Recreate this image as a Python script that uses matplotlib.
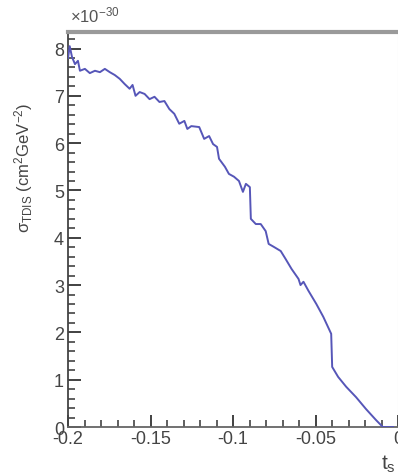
import numpy as np
import matplotlib.pyplot as plt
from matplotlib.ticker import MultipleLocator

plt.rcParams['font.family'] = ['Liberation Sans', 'DejaVu Sans']
plt.rcParams['mathtext.fontset'] = 'custom'
plt.rcParams['mathtext.rm'] = 'Liberation Sans'
plt.rcParams['mathtext.it'] = 'Liberation Sans'

# t values and cross section (units of 1e-30 cm^2 GeV^-2)
t_vals = [-0.2000, -0.1990, -0.1976, -0.1958, -0.1940, -0.1928, -0.1898, -0.1868,
          -0.1837, -0.1807, -0.1777, -0.1747, -0.1717, -0.1687, -0.1657, -0.1627,
          -0.1609, -0.1591, -0.1566, -0.1536, -0.1506, -0.1476, -0.1446, -0.1416,
          -0.1386, -0.1356, -0.1326, -0.1295, -0.1277, -0.1253, -0.1205, -0.1175,
          -0.1145, -0.1121, -0.1097, -0.1085, -0.1049, -0.1025, -0.0994, -0.0964,
          -0.0940, -0.0922, -0.0898, -0.0892, -0.0862, -0.0832, -0.0802, -0.0784,
          -0.0754, -0.0711, -0.0681, -0.0645, -0.0603, -0.0591, -0.0573, -0.0543,
          -0.0495, -0.0453, -0.0405, -0.0399, -0.0363, -0.0314, -0.0254, -0.0194,
          -0.0134, -0.0092, -0.0030]
sigma = [7.80, 8.05, 7.82, 7.67, 7.74, 7.53, 7.57, 7.48,
         7.53, 7.50, 7.57, 7.50, 7.44, 7.36, 7.25, 7.15,
         7.23, 7.00, 7.08, 7.04, 6.93, 6.98, 6.87, 6.89,
         6.72, 6.62, 6.41, 6.47, 6.30, 6.36, 6.34, 6.09,
         6.15, 5.98, 5.92, 5.67, 5.50, 5.35, 5.29, 5.20,
         4.97, 5.14, 5.07, 4.40, 4.29, 4.29, 4.14, 3.87,
         3.81, 3.72, 3.55, 3.34, 3.13, 3.00, 3.07, 2.88,
         2.60, 2.33, 1.97, 1.27, 1.06, 0.85, 0.63, 0.38,
         0.15, 0.00, 0.00]

fig = plt.figure(figsize=(3.98, 4.77), dpi=100)
ax = fig.add_axes([0.171, 0.1027, 0.829, 0.8282])

ax.plot(t_vals, sigma, color='#5656b8', lw=1.4, zorder=3)

ax.set_xlim(-0.2, 0.0)
ax.set_ylim(0, 8.35)
ax.set_xticks([-0.2, -0.15, -0.1, -0.05, 0.0])
ax.set_xticklabels(['-0.2', '-0.15', '-0.1', '-0.05', '0'])
ax.xaxis.set_minor_locator(MultipleLocator(0.01))
ax.yaxis.set_major_locator(MultipleLocator(1))
ax.yaxis.set_minor_locator(MultipleLocator(0.2))
ax.tick_params(axis='x', which='both', direction='in', bottom=True, top=False,
               color='#333333', labelcolor='#444444', labelsize=13, pad=2)
ax.tick_params(axis='y', which='both', direction='in', left=True, right=False,
               color='#333333', labelcolor='#444444', labelsize=13, pad=3)
ax.tick_params(which='major', length=9, width=1.3)
ax.tick_params(which='minor', length=5, width=1.1)

ax.spines['top'].set_color('#9a9a9a')
ax.spines['top'].set_linewidth(3)
ax.spines['left'].set_color('#444444')
ax.spines['left'].set_linewidth(1.3)
ax.spines['bottom'].set_color('#666666')
ax.spines['bottom'].set_linewidth(1.3)
ax.spines['right'].set_color('#dddddd')
ax.spines['right'].set_linewidth(0.8)

ax.set_ylabel('σ$_{\\mathrm{TDIS}}$ (cm$^{2}$GeV$^{-2}$)', fontsize=12,
              color='#444444')
ax.yaxis.set_label_coords(-0.10, 0.66)
fig.text(0.175, 0.953, '×10$^{-30}$', fontsize=12, color='#555555')
fig.text(0.958, 0.015, 't$_{s}$', fontsize=15, color='#444444')

fig.savefig('out.png', dpi=100)
